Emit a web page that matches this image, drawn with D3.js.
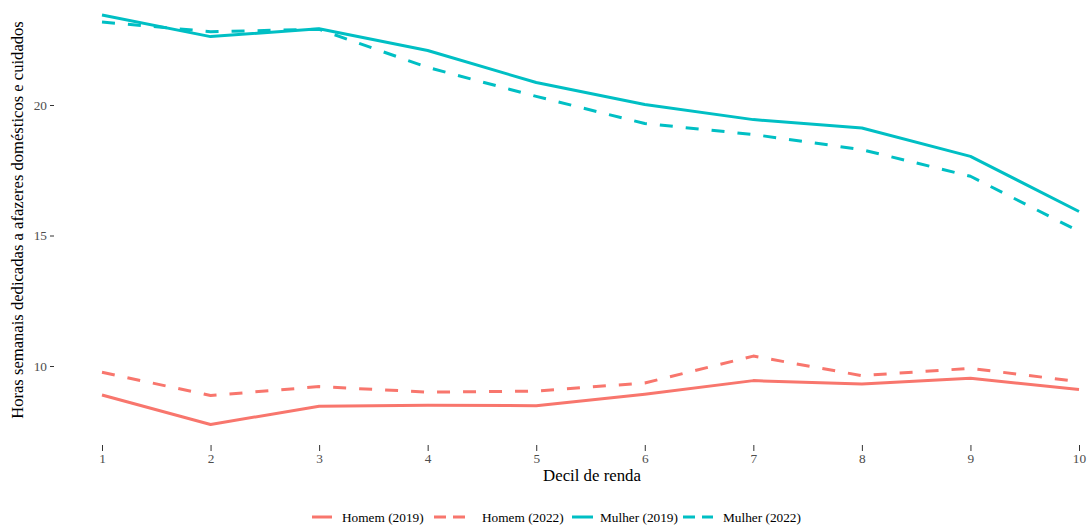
<!DOCTYPE html>
<html><head><meta charset="utf-8">
<script src="https://cdn.jsdelivr.net/npm/d3@7"></script>
<style>body{margin:0;background:#fff}svg{display:block}text{font-family:"Liberation Serif","Times New Roman",serif}</style>
</head><body>
<svg id="c" width="1089" height="525"></svg>
<script>
const deciles = [1,2,3,4,5,6,7,8,9,10];
const homem2019 = [8.89,7.76,8.46,8.50,8.48,8.92,9.44,9.31,9.53,9.10];
const homem2022 = [9.76,8.87,9.21,9.00,9.04,9.35,10.38,9.63,9.91,9.40];
const mulher2019 = [23.45,22.62,22.92,22.09,20.86,20.02,19.44,19.12,18.03,15.92];
const mulher2022 = [23.18,22.81,22.90,21.44,20.33,19.29,18.87,18.29,17.27,15.16];
const yTicks = [10,15,20];
const seriesNames = ["Homem (2019)","Homem (2022)","Mulher (2019)","Mulher (2022)"];
const seriesColors = ["#F8766D","#F8766D","#00BFC4","#00BFC4"];
const seriesDashed = [false,true,false,true];
const seriesValues = [homem2019,homem2022,mulher2019,mulher2022];

const svg = d3.select("#c");
const x = d3.scaleLinear().domain([1,10]).range([102,1079]);
const y = d3.scaleLinear().domain([10,20]).range([366,105]);

// y axis
const yAxis = svg.append("g").attr("transform","translate(54,0)")
  .call(d3.axisLeft(y).tickValues(yTicks).tickSize(4).tickPadding(3));
yAxis.select(".domain").remove();
yAxis.selectAll("line").attr("stroke","#333").attr("stroke-width",1);
yAxis.selectAll("text").attr("fill","#4d4d4d").style("font-size","13.3px").style("font-family","Liberation Serif");

// x axis
const xAxis = svg.append("g").attr("transform","translate(0,445)")
  .call(d3.axisBottom(x).tickValues(deciles).tickFormat(d3.format("d")).tickSize(6).tickPadding(3));
xAxis.select(".domain").remove();
xAxis.selectAll("line").attr("stroke","#333").attr("stroke-width",1);
xAxis.selectAll("text").attr("fill","#4d4d4d").style("font-size","13.3px").style("font-family","Liberation Serif");

// titles
svg.append("text").attr("x",592).attr("y",481).attr("text-anchor","middle")
  .style("font-size","16.8px").attr("fill","#000").text("Decil de renda");
svg.append("text").attr("transform","translate(23,220) rotate(-90)").attr("text-anchor","middle")
  .style("font-size","16.6px").attr("fill","#000").text("Horas semanais dedicadas a afazeres domésticos e cuidados");

// lines
const line = d3.line().x((d,i)=>x(deciles[i])).y(d=>y(d));
seriesValues.forEach((vals,k)=>{
  svg.append("path").datum(vals).attr("d",line).attr("fill","none")
    .attr("stroke",seriesColors[k]).attr("stroke-width",3)
    .attr("stroke-linejoin","round")
    .attr("stroke-dasharray",seriesDashed[k]?"13,13":null);
});

// legend
const keyX = [312,434,572,683];
const keyW = [20,31,21,30];
const textX = [342,482,600,723];
const ly = 517;
seriesNames.forEach((n,k)=>{
  svg.append("line").attr("x1",keyX[k]).attr("x2",keyX[k]+keyW[k]).attr("y1",ly).attr("y2",ly)
    .attr("stroke",seriesColors[k]).attr("stroke-width",3)
    .attr("stroke-dasharray",seriesDashed[k]?"12,7":null);
  svg.append("text").attr("x",textX[k]).attr("y",ly+4.5).style("font-size","13.3px").attr("fill","#000").text(n);
});
</script>
</body></html>
